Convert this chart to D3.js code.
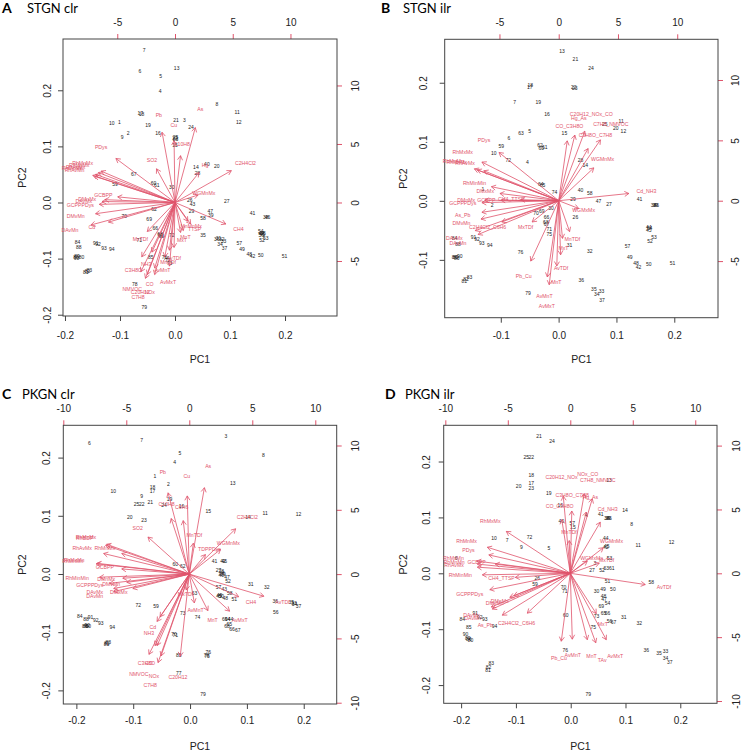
<!DOCTYPE html>
<html lang="en">
<head>
<meta charset="UTF-8">
<title>PCA biplots STGN / PKGN</title>
<script src="https://d3js.org/d3.v7.min.js"></script>
<style>
  body { margin: 0; background: #fff; }
  svg { display: block; }
</style>
</head>
<body>
<div id="chart"></div>
<script>
// sample scores: [label, PC1, PC2]
const stgnClrScores = [
  ["7",-0.056,0.272],["6",-0.064,0.234],["13",0.003,0.239],["5",-0.026,0.225],["4",-0.027,0.199],
  ["8",0.076,0.175],["11",0.113,0.160],["12",0.116,0.143],["17",-0.063,0.159],["18",-0.061,0.157],
  ["10",-0.115,0.141],["1",-0.101,0.143],["19",-0.049,0.138],["21",0.002,0.147],["3",0.017,0.147],
  ["24",0.029,0.135],["16",-0.031,0.124],["2",-0.085,0.123],["9",-0.096,0.116],["22",0.0,0.114],
  ["23",0.001,0.112],["25",0.001,0.116],["15",0.0,0.102],["14",0.038,0.062],["40",0.058,0.069],
  ["20",0.076,0.064],["28",0.041,0.052],["67",-0.075,0.050],["59",-0.109,0.033],["60",-0.039,0.034],
  ["61",-0.033,0.031],["30",-0.006,0.027],["26",0.027,0.004],["27",0.094,0.003],["43",0.032,-0.004],
  ["29",0.030,-0.016],["47",0.064,-0.016],["39",0.065,-0.022],["41",0.141,-0.019],["38",0.165,-0.027],
  ["46",0.168,-0.027],["58",0.051,-0.028],["62",-0.038,-0.012],["70",-0.092,-0.024],["69",-0.047,-0.030],
  ["66",-0.036,-0.046],["68",-0.027,-0.056],["63",-0.026,-0.059],["65",-0.025,-0.061],["72",-0.006,-0.058],
  ["35",0.051,-0.058],["44",0.157,-0.054],["45",0.159,-0.057],["54",0.156,-0.052],["55",0.160,-0.055],
  ["56",0.157,-0.058],["53",0.165,-0.064],["52",0.158,-0.068],["36",0.076,-0.066],["33",0.088,-0.069],
  ["34",0.082,-0.074],["31",0.079,-0.064],["32",0.085,-0.066],["37",0.090,-0.081],["57",0.117,-0.072],
  ["49",0.122,-0.083],["48",0.135,-0.092],["42",0.141,-0.095],["50",0.156,-0.094],["51",0.199,-0.095],
  ["71",-0.065,-0.067],["84",-0.177,-0.071],["88",-0.175,-0.079],["91",-0.144,-0.072],["92",-0.140,-0.074],
  ["93",-0.129,-0.081],["94",-0.115,-0.083],["86",-0.180,-0.097],["89",-0.178,-0.096],["90",-0.179,-0.099],
  ["80",-0.170,-0.097],["83",-0.156,-0.121],["82",-0.159,-0.123],["81",-0.162,-0.124],["85",-0.044,-0.098],
  ["76",-0.019,-0.098],["77",-0.013,-0.103],["73",-0.010,-0.108],["74",-0.016,-0.100],["78",-0.073,-0.145],
  ["79",-0.056,-0.187]
];
const stgnIlrScores = [
  ["13",0.006,0.254],["21",0.029,0.240],["24",0.056,0.224],["18",-0.049,0.196],["17",-0.050,0.192],
  ["22",0.026,0.192],["23",0.028,0.191],["7",-0.076,0.167],["19",-0.035,0.167],["16",-0.020,0.147],
  ["11",0.108,0.135],["20",0.099,0.123],["12",0.112,0.117],["25",0.080,0.129],["14",0.046,0.060],
  ["15",0.010,0.114],["5",-0.050,0.118],["63",-0.065,0.114],["6",-0.086,0.106],["59",-0.099,0.092],
  ["10",-0.112,0.080],["62",-0.032,0.094],["60",-0.030,0.089],["61",-0.024,0.090],["72",-0.087,0.069],
  ["4",-0.054,0.065],["28",0.038,0.069],["64",-0.031,0.028],["65",-0.028,0.026],["1",-0.131,0.020],
  ["74",-0.007,0.014],["40",0.038,0.018],["58",0.054,0.013],["41",0.140,0.003],["47",0.069,0.0],
  ["27",0.087,-0.006],["29",0.025,0.002],["38",0.164,-0.008],["39",0.167,-0.008],["46",0.169,-0.008],
  ["2",-0.115,-0.008],["30",-0.013,-0.013],["69",-0.029,-0.017],["70",-0.039,-0.021],["26",0.029,-0.028],
  ["66",-0.021,-0.028],["68",-0.022,-0.036],["67",-0.021,-0.040],["44",0.156,-0.044],["45",0.156,-0.050],
  ["54",0.157,-0.047],["71",-0.016,-0.048],["75",-0.016,-0.056],["53",0.165,-0.062],["52",0.158,-0.068],
  ["84",-0.180,-0.063],["88",-0.174,-0.073],["91",-0.147,-0.061],["92",-0.141,-0.065],["93",-0.133,-0.072],
  ["94",-0.119,-0.076],["31",0.019,-0.075],["57",0.119,-0.077],["32",0.054,-0.085],["76",-0.066,-0.087],
  ["49",0.123,-0.095],["86",-0.180,-0.095],["89",-0.178,-0.096],["90",-0.171,-0.094],["80",-0.176,-0.097],
  ["48",0.134,-0.105],["42",0.138,-0.112],["50",0.156,-0.107],["51",0.197,-0.105],["83",-0.154,-0.129],
  ["82",-0.160,-0.133],["81",-0.163,-0.136],["36",0.039,-0.134],["35",0.061,-0.150],["33",0.074,-0.153],
  ["34",0.066,-0.159],["37",0.075,-0.168],["79",-0.053,-0.157]
];
const pkgnClrScores = [
  ["6",-0.177,0.225],["7",-0.085,0.230],["3",0.063,0.237],["5",-0.018,0.207],["8",0.129,0.204],
  ["4",-0.027,0.192],["1",-0.062,0.168],["2",-0.038,0.155],["13",0.075,0.156],["18",-0.066,0.149],
  ["17",-0.066,0.142],["10",-0.135,0.143],["9",-0.085,0.134],["19",-0.036,0.129],["21",-0.070,0.124],
  ["25",-0.094,0.120],["22",-0.085,0.120],["24",-0.046,0.118],["16",-0.015,0.116],["15",0.032,0.107],
  ["11",0.132,0.105],["12",0.191,0.103],["14",0.102,0.097],["20",-0.106,0.098],["23",-0.081,0.093],
  ["41",0.043,0.022],["42",0.058,0.022],["46",0.060,0.022],["60",-0.026,0.017],["62",-0.013,0.013],
  ["27",0.050,0.006],["28",0.055,0.004],["38",0.056,0.001],["39",0.058,0.0],["40",0.055,-0.002],
  ["47",0.065,-0.006],["52",0.067,-0.012],["31",0.107,-0.017],["32",0.135,-0.023],["57",0.050,-0.023],
  ["43",0.060,-0.026],["58",0.070,-0.033],["49",0.052,-0.036],["50",0.055,-0.038],["45",0.051,-0.039],
  ["48",0.062,-0.041],["51",0.078,-0.044],["36",0.150,-0.047],["35",0.178,-0.049],["33",0.183,-0.050],
  ["34",0.184,-0.052],["37",0.191,-0.056],["56",0.151,-0.065],["63",0.008,-0.033],["72",-0.091,-0.053],
  ["59",-0.060,-0.055],["73",-0.013,-0.068],["74",0.013,-0.074],["69",0.061,-0.077],["64",0.066,-0.077],
  ["44",0.071,-0.077],["68",0.065,-0.089],["65",0.069,-0.087],["66",0.074,-0.095],["67",0.084,-0.096],
  ["84",-0.194,-0.072],["88",-0.183,-0.077],["91",-0.175,-0.074],["92",-0.166,-0.079],["93",-0.157,-0.084],
  ["94",-0.137,-0.091],["86",-0.185,-0.089],["89",-0.183,-0.090],["90",-0.181,-0.088],["80",-0.179,-0.090],
  ["81",-0.147,-0.120],["82",-0.146,-0.119],["83",-0.144,-0.117],["70",-0.028,-0.103],["71",-0.026,-0.106],
  ["85",-0.020,-0.139],["76",0.032,-0.135],["78",0.029,-0.139],["75",0.030,-0.141],["77",-0.020,-0.171],
  ["79",0.023,-0.206]
];
const pkgnIlrScores = [
  ["21",-0.058,0.245],["24",-0.034,0.236],["25",-0.081,0.208],["22",-0.072,0.208],["18",-0.072,0.176],
  ["17",-0.072,0.162],["20",-0.095,0.156],["23",-0.072,0.153],["13",0.070,0.166],["19",-0.040,0.144],
  ["16",-0.019,0.122],["14",0.099,0.113],["41",0.055,0.106],["38",0.066,0.099],["39",0.068,0.099],
  ["46",0.070,0.099],["8",0.111,0.088],["40",-0.017,0.094],["57",0.003,0.089],["15",0.004,0.083],
  ["4",0.028,0.104],["10",-0.140,0.062],["7",-0.116,0.060],["72",-0.075,0.065],["9",-0.090,0.047],
  ["5",-0.040,0.044],["11",0.123,0.051],["12",0.184,0.056],["44",0.064,0.062],["42",0.064,0.047],
  ["45",0.066,0.049],["6",-0.209,0.027],["53",0.071,0.027],["3",0.044,0.018],["27",0.039,0.005],
  ["52",0.057,0.005],["63",0.065,0.009],["61",0.075,0.009],["26",-0.061,-0.008],["59",-0.065,-0.020],
  ["51",0.067,-0.015],["58",0.147,-0.016],["70",-0.013,-0.025],["71",-0.011,-0.033],["30",0.047,-0.032],
  ["49",0.059,-0.028],["50",0.077,-0.028],["48",0.060,-0.041],["47",0.061,-0.047],["54",0.067,-0.054],
  ["69",0.056,-0.059],["65",0.060,-0.072],["66",0.067,-0.072],["73",0.047,-0.077],["60",-0.009,-0.075],
  ["31",0.097,-0.078],["32",0.125,-0.089],["56",0.071,-0.086],["67",0.078,-0.088],["75",0.041,-0.097],
  ["84",-0.198,-0.083],["91",-0.174,-0.072],["92",-0.166,-0.079],["93",-0.157,-0.082],["85",-0.186,-0.096],
  ["94",-0.139,-0.094],["90",-0.192,-0.109],["86",-0.186,-0.118],["89",-0.188,-0.117],["80",-0.183,-0.119],
  ["83",-0.145,-0.161],["82",-0.150,-0.168],["81",-0.151,-0.173],["76",-0.010,-0.137],["36",0.138,-0.137],
  ["35",0.161,-0.143],["33",0.173,-0.140],["34",0.173,-0.152],["37",0.181,-0.160],["79",0.032,-0.216]
];

// variable loadings: [label, top axis, right axis]; arrows drawn to 0.8 of these
const stgnClrLoadings = [
  ["As",2.2,8.0],["Pb",-1.4,7.5],["Cu",-0.1,6.6],["C10H8",0.6,5.0],["PDys",-6.4,4.7],["SO2",-2.0,3.6],
  ["C2H4Cl2",6.1,3.4],["Hg",2.6,3.2],["WGMnMx",2.5,0.8],["CH4",5.5,-2.3],["MnMnMx",1.4,-2.0],
  ["TTSP",1.7,-2.3],["MnT",0.9,-3.0],["GCBPP",-6.2,0.6],["DMnMx",-7.6,0.3],["DAvMx",-7.9,0.1],
  ["GCPPPDys",-8.2,-0.2],["DMvMn",-8.6,-1.2],["Cd",-7.2,-2.1],["DAvMn",-9.1,-2.4],["MxTDf",-3.0,-3.1],
  ["MxT",0.6,-3.2],["AvTDf",-0.1,-4.8],["MnTDf",-0.6,-5.1],["C3H8O",-3.6,-5.8],["NH3",-2.5,-5.3],
  ["AvMnT",-1.1,-5.8],["AvMxT",-0.6,-6.8],["CO",-2.2,-7.0],["NMVOC",-3.7,-7.4],["NOx",-2.2,-7.7],
  ["C7H8",-3.2,-8.1],["C20H12",-3.0,-7.7],["RhMnMx",-8.0,3.35],["RhMxMx",-8.3,3.2],["RhAvMx",-8.6,3.0],
  ["RhMnMn",-8.9,2.9],["RhAvMn",-8.7,2.8]
];
const stgnIlrLoadings = [
  ["C20H12_NOx_CO",2.75,7.2],["Hg_As",1.7,6.8],["CO_C3H8O",0.9,6.2],["C7H8_NMVOC",4.4,6.3],
  ["C3H8O_C7H8",3.1,5.4],["PDys",-6.3,5.0],["RhMxMx",-8.1,4.0],["RhMnMn",-8.9,3.3],["RhMnMx",-8.6,3.2],
  ["RhAvMx",-7.9,3.1],["WGMnMx",3.7,3.4],["RhMinMin",-7.1,1.45],["Cd_NH3",7.4,0.75],["DMxMx",-6.2,0.75],
  ["DMnMx",-7.8,0.05],["GCPPPDys",-8.1,-0.2],["GCBPP",-6.1,0.05],["CH4_TTSP",-4.0,0.1],
  ["WGMxMx",2.1,-0.8],["As_Pb",-8.1,-1.2],["DMvMn",-8.2,-1.9],["C2H4Cl2_C6H6",-6.0,-2.2],
  ["MxTDf",-2.8,-2.2],["DAvMx",-8.8,-3.1],["DAvMn",-8.5,-3.5],["MnTDf",1.15,-3.2],["MxT",0.4,-3.9],
  ["AvTDf",0.2,-5.6],["Pb_Cu",-2.95,-6.25],["MnT",-0.2,-6.75],["AvMnT",-1.2,-7.9],["AvMxT",-1.0,-8.7]
];
const pkgnClrLoadings = [
  ["As",1.5,8.4],["Pb",-2.1,7.9],["Cu",-0.2,7.6],["C10H8",-1.8,5.4],["C6H6",-0.6,5.2],["C2H4Cl2",4.6,4.4],
  ["SO2",-4.1,3.6],["MnTDf",0.4,3.0],["WGMnMx",3.1,2.4],["TDPPDys",1.6,1.9],["RhBDP",-8.3,2.8],
  ["RhMxMx",-8.2,2.9],["RhAvMx",-8.5,2.0],["RhMnMx",-6.7,2.0],["RhMnMn",-9.25,1.0],["RhMxMn",-9.15,1.05],
  ["GCBPP",-6.7,0.5],["RhMinMin",-8.9,-0.3],["GCPPPDys",-7.9,-0.9],["DMnMx",-6.6,-0.4],["DAvMx",-7.5,-1.4],
  ["DAvMn",-7.5,-1.7],["DMvMn",-6.2,-0.8],["DMxMx",-5.6,-1.4],["MxTDf",-0.3,-1.55],["CH4",4.9,-2.2],
  ["AvTDf",7.4,-2.15],["AvMnT",0.5,-2.8],["MnT",1.85,-3.55],["AvMxT",4.0,-3.6],["Cd",-2.9,-4.15],
  ["NH3",-3.2,-4.6],["C3H8O",-3.4,-6.95],["CO",-3.2,-6.95],["NMVOC",-4.0,-7.8],["NOx",-2.8,-7.95],
  ["C20H12",-0.9,-8.0],["C7H8",-3.1,-8.6]
];
const pkgnIlrLoadings = [
  ["C20H12_NOx",-0.7,7.55],["NOx_CO",1.4,7.8],["C7H8_NMVOC",2.2,7.3],["C3H8O_C7H8",0.15,6.1],
  ["Hg_As",1.6,6.0],["CO_C3H8O",-0.85,5.25],["Cd_NH3",3.0,5.0],["RhMxMx",-6.4,4.1],["MnTDf",-0.1,3.2],
  ["RhMnMx",-8.3,2.55],["WGMnMx",3.3,2.5],["PDys",-8.15,1.8],["RhMxMn",-9.35,1.2],["RhMnMn",-9.3,0.9],
  ["RhAvMx",-9.3,0.6],["GCBPP",-7.5,0.9],["RhMinMin",-8.8,-0.15],["CH4_TTSP",-5.5,-0.4],
  ["GCPPPDys",-8.05,-1.6],["DMvMn",-6.05,-2.35],["DMnMx",-5.65,-2.2],["DAvMx",-7.9,-3.3],
  ["DAvMn",-7.8,-3.5],["As_Pb",-6.8,-4.1],["C2H4Cl2_C6H6",-4.3,-3.9],["WGMxMx",1.7,1.2],
  ["MxTDf",2.9,1.0],["MxT",2.6,-3.95],["AvTDf",7.5,-1.1],["Pb_Cu",-0.9,-6.65],["AvMnT",0.2,-6.45],
  ["MnT",1.7,-6.5],["TAv",2.55,-6.8],["AvMxT",3.6,-6.5]
];

// tick values
const pcTicks = [-0.2, -0.1, 0, 0.1, 0.2];
const pcTicksShort = [-0.1, 0, 0.1, 0.2];
const loadTicks = [-5, 0, 5, 10];
const loadTicksWide = [-10, -5, 0, 5, 10];

const W = 746, H = 754;
const red = "#DF536B";

const panels = [
  { letter: "A", title: "STGN clr", scores: stgnClrScores, loadings: stgnClrLoadings,
    box: { l: 63, r: 337, t: 39, b: 316 },
    xlim: [-0.2036, 0.2945], ylim: [-0.2023, 0.2914], x2lim: [-9.70, 14.03], y2lim: [-9.70, 13.97],
    xt: pcTicks, yt: pcTicks, x2t: loadTicks, y2t: loadTicks,
    letterX: 2, titleX: 27, titleY: 13, pc2X: 25.5, pc1Y: 363,
    gap: { l: 12.5, r: 14.5, t: 13, b: 15.5 } },
  { letter: "B", title: "STGN ilr", scores: stgnIlrScores, loadings: stgnIlrLoadings,
    box: { l: 444.7, r: 718, t: 39.3, b: 317.7 },
    xlim: [-0.197, 0.2756], ylim: [-0.198, 0.2736], x2lim: [-9.62, 13.44], y2lim: [-9.69, 13.37],
    xt: pcTicksShort, yt: pcTicksShort, x2t: loadTicks, y2t: loadTicks,
    letterX: 381, titleX: 403, titleY: 13, pc2X: 406.5, pc1Y: 363.3,
    gap: { l: 17.5, r: 14.3, t: 13, b: 14 } },
  { letter: "C", title: "PKGN clr", scores: pkgnClrScores, loadings: pkgnClrLoadings,
    box: { l: 63.3, r: 336.7, t: 425.3, b: 704 },
    xlim: [-0.223, 0.258], ylim: [-0.2234, 0.2555], x2lim: [-10.0, 11.7], y2lim: [-10.1, 11.57],
    xt: pcTicks, yt: pcTicks, x2t: loadTicksWide, y2t: loadTicksWide,
    letterX: 2, titleX: 22, titleY: 398.5, pc2X: 26, pc1Y: 749.5,
    gap: { l: 13.3, r: 15, t: 13.3, b: 13.3 } },
  { letter: "D", title: "PKGN ilr", scores: pkgnIlrScores, loadings: pkgnIlrLoadings,
    box: { l: 443.7, r: 717, t: 425.3, b: 703.3 },
    xlim: [-0.2318, 0.267], ylim: [-0.2326, 0.2648], x2lim: [-10.13, 11.74], y2lim: [-10.18, 11.59],
    xt: pcTicks, yt: pcTicks, x2t: loadTicksWide, y2t: loadTicksWide,
    letterX: 385, titleX: 405, titleY: 399, pc2X: 406.5, pc1Y: 749.5,
    gap: { l: 14, r: 16, t: 13.3, b: 14 } }
];

const svg = d3.select("#chart").append("svg")
  .attr("width", W).attr("height", H)
  .style("font-family", "'Liberation Sans', Arial, sans-serif");

const fmtPC = d => d.toFixed(1);
const fmtLoad = d => String(d);

panels.forEach(p => {
  const b = p.box;
  const x = d3.scaleLinear().domain(p.xlim).range([b.l, b.r]);
  const y = d3.scaleLinear().domain(p.ylim).range([b.b, b.t]);
  const x2 = d3.scaleLinear().domain(p.x2lim).range([b.l, b.r]);
  const y2 = d3.scaleLinear().domain(p.y2lim).range([b.b, b.t]);

  const g = svg.append("g");

  // titles
  g.append("text").attr("x", p.letterX).attr("y", p.titleY)
    .style("font-family", "Lato, 'Open Sans', sans-serif")
    .style("font-weight", "bold").style("font-size", "14px").text(p.letter);
  g.append("text").attr("x", p.titleX).attr("y", p.titleY)
    .style("font-family", "Lato, 'Open Sans', sans-serif")
    .style("font-size", "13px").text(p.title);

  // sample labels
  g.append("g").selectAll("text")
    .data(p.scores)
    .join("text")
      .attr("x", d => x(d[1]))
      .attr("y", d => y(d[2]))
      .attr("text-anchor", "middle")
      .attr("dy", "0.35em")
      .style("font-size", "5px")
      .attr("fill", "#1a1a1a")
      .text(d => d[0]);

  // bottom / left axes
  const gx = g.append("g").attr("transform", `translate(0,${b.b})`)
    .call(d3.axisBottom(x).tickValues(p.xt).tickFormat(fmtPC).tickSize(5).tickPadding(p.gap.b - 5));
  const gy = g.append("g").attr("transform", `translate(${b.l},0)`)
    .call(d3.axisLeft(y).tickValues(p.yt).tickFormat(fmtPC).tickSize(5));
  gy.selectAll(".tick text")
    .attr("x", 0).attr("dy", 0).attr("text-anchor", "middle")
    .attr("transform", `translate(${-p.gap.l},0) rotate(-90)`);

  // top / right axes for the loadings
  const gx2 = g.append("g").attr("transform", `translate(0,${b.t})`)
    .call(d3.axisTop(x2).tickValues(p.x2t).tickFormat(fmtLoad).tickSize(5).tickPadding(p.gap.t - 5));
  const gy2 = g.append("g").attr("transform", `translate(${b.r},0)`)
    .call(d3.axisRight(y2).tickValues(p.y2t).tickFormat(fmtLoad).tickSize(5));
  gy2.selectAll(".tick text")
    .attr("x", 0).attr("dy", 0).attr("text-anchor", "middle")
    .attr("transform", `translate(${p.gap.r + 7},0) rotate(-90)`);

  [gx, gy, gx2, gy2].forEach(a => {
    a.select(".domain").remove();
    a.selectAll(".tick text").style("font-size", "10px").attr("fill", "#222");
    a.selectAll(".tick line").attr("stroke", "#444");
  });
  [gx2, gy2].forEach(a => a.selectAll(".tick line").attr("stroke", red));

  // plot frame
  g.append("rect")
    .attr("x", b.l).attr("y", b.t)
    .attr("width", b.r - b.l).attr("height", b.b - b.t)
    .attr("fill", "none").attr("stroke", "#444").attr("stroke-width", 1);

  // axis titles
  g.append("text")
    .attr("x", (b.l + b.r) / 2).attr("y", p.pc1Y)
    .attr("text-anchor", "middle").style("font-size", "10.5px").attr("fill", "#222")
    .text("PC1");
  g.append("text")
    .attr("transform", `translate(${p.pc2X},${(b.t + b.b) / 2}) rotate(-90)`)
    .attr("text-anchor", "middle").style("font-size", "10.5px").attr("fill", "#222")
    .text("PC2");

  // loading arrows, as R's biplot: shaft to 0.8 * loading, label at the loading
  const x0 = x2(0), y0 = y2(0), head = 5, ang = Math.PI / 6;
  g.append("g").selectAll("path")
    .data(p.loadings)
    .join("path")
      .attr("fill", "none")
      .attr("stroke", red)
      .attr("stroke-width", 0.8)
      .attr("d", d => {
        const x1 = x2(0.8 * d[1]), y1 = y2(0.8 * d[2]);
        const a = Math.atan2(y1 - y0, x1 - x0);
        const hx1 = x1 - head * Math.cos(a - ang), hy1 = y1 - head * Math.sin(a - ang);
        const hx2 = x1 - head * Math.cos(a + ang), hy2 = y1 - head * Math.sin(a + ang);
        return `M${x0},${y0}L${x1},${y1}M${hx1},${hy1}L${x1},${y1}L${hx2},${hy2}`;
      });

  g.append("g").selectAll("text")
    .data(p.loadings)
    .join("text")
      .attr("x", d => x2(d[1]))
      .attr("y", d => y2(d[2]))
      .attr("text-anchor", "middle")
      .attr("dy", "0.35em")
      .style("font-size", "5.2px")
      .attr("fill", red)
      .text(d => d[0]);
});
</script>
</body>
</html>
